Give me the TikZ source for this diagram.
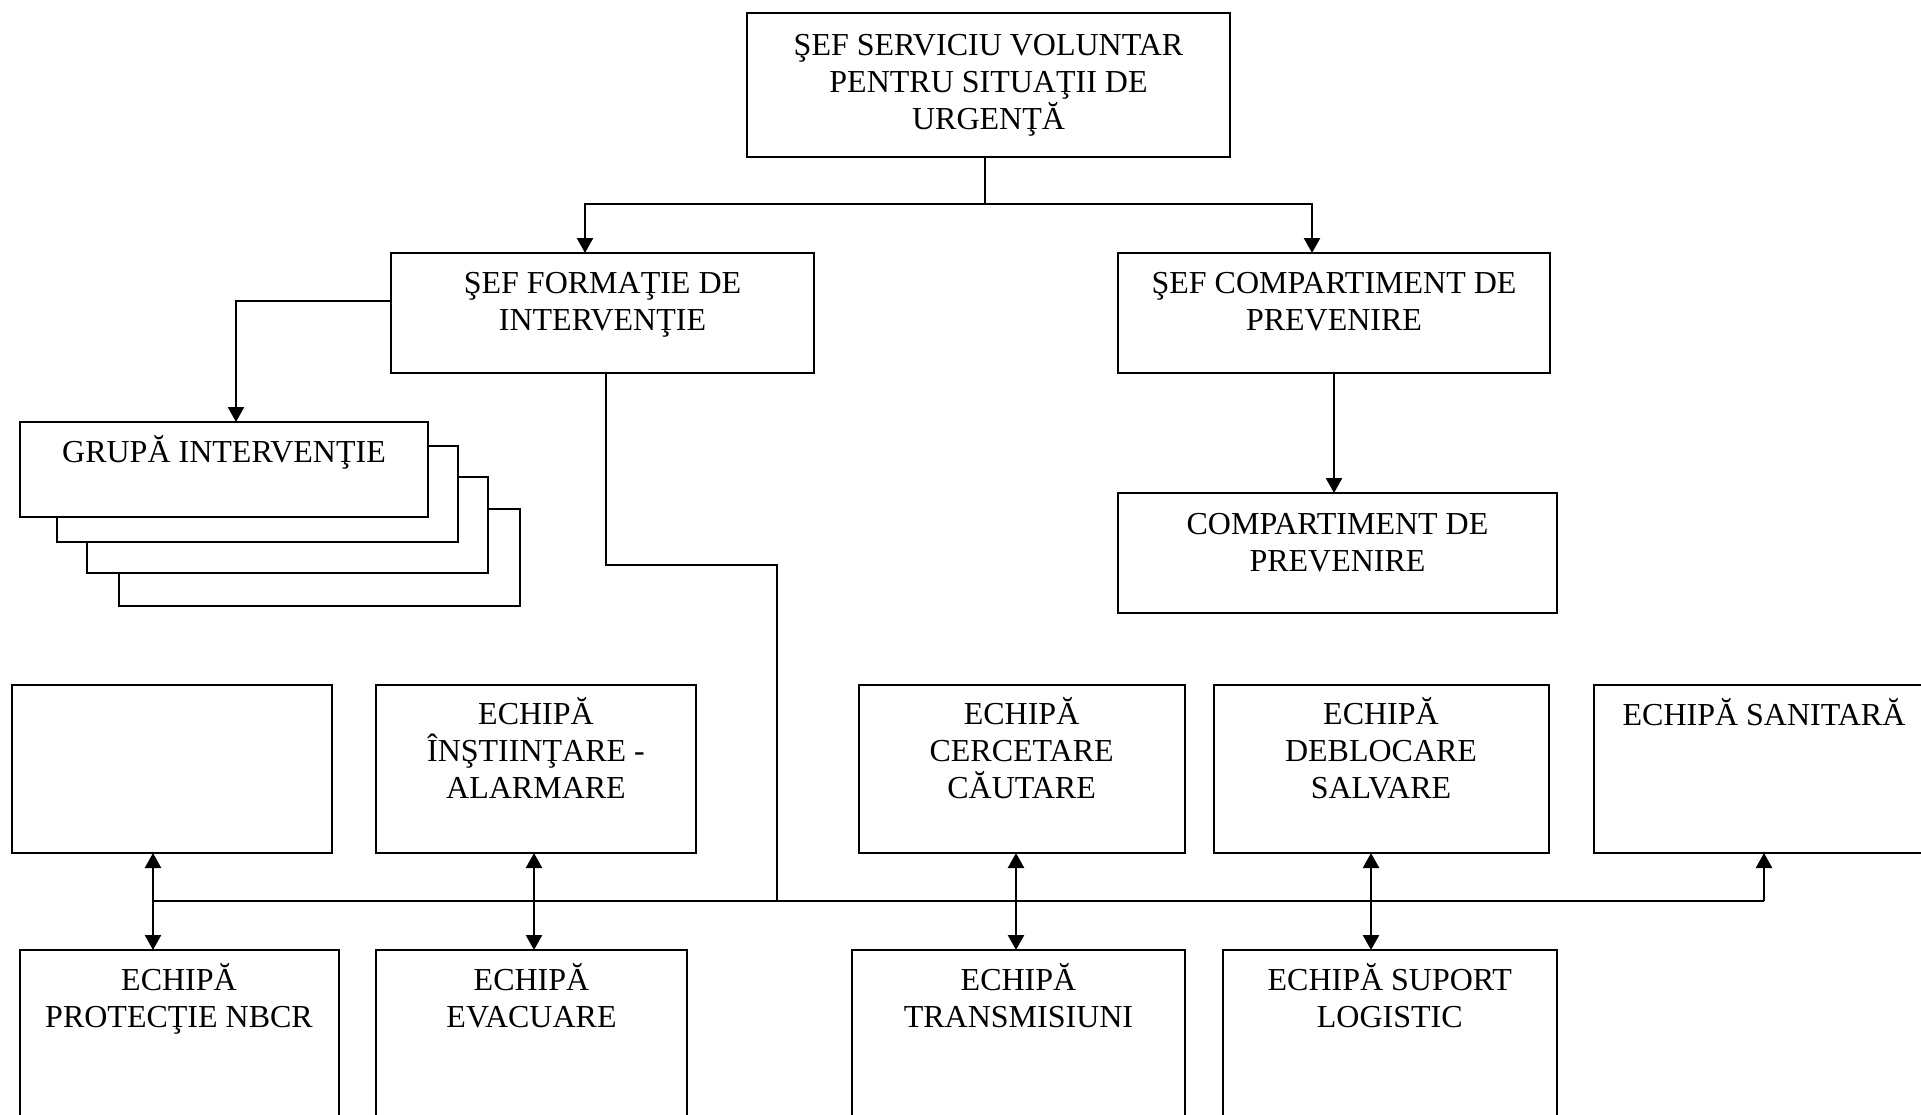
\documentclass[tikz,border=0pt]{standalone}
\usepackage{fontspec}
\setmainfont{Liberation Serif}
\usetikzlibrary{arrows.meta}
\begin{document}
\begin{tikzpicture}[x=0.5pt,y=-0.5pt,
  box/.style={draw, line width=1pt, fill=white, inner sep=0pt, outer sep=0pt, anchor=north west},
  lbl/.style={align=center, font=\fontsize{16}{18.4}\selectfont, inner sep=0pt, anchor=base},
  conn/.style={line width=1.2pt},
  arr/.style={conn, -{Triangle[length=7.5pt,width=8pt]}},
  darr/.style={conn, {Triangle[length=7.5pt,width=8pt]}-{Triangle[length=7.5pt,width=8pt]}}]
\fill[white] (0,0) rectangle (1921,1114);
\useasboundingbox (0,0) rectangle (1921,1114);
\clip (0,0) rectangle (1921,1114);

% boxes
\node[box, minimum width=241.5pt, minimum height=72pt] (T) at (747,13) {};
\node[box, minimum width=211.5pt, minimum height=60pt] (F) at (391,253) {};
\node[box, minimum width=216pt, minimum height=60pt] (C) at (1118,253) {};
\node[box, minimum width=219.5pt, minimum height=60pt] (CP) at (1118,493) {};
\node[box, minimum width=200.5pt, minimum height=48.5pt] (G4) at (119,509) {};
\node[box, minimum width=200.5pt, minimum height=48pt] (G3) at (87,477) {};
\node[box, minimum width=200.5pt, minimum height=48pt] (G2) at (57,446) {};
\node[box, minimum width=204pt, minimum height=47.5pt] (G1) at (20,422) {};
\node[box, minimum width=160pt, minimum height=84pt] (E1) at (12,685) {};
\node[box, minimum width=160pt, minimum height=84pt] (E2) at (376,685) {};
\node[box, minimum width=163pt, minimum height=84pt] (E3) at (859,685) {};
\node[box, minimum width=167.5pt, minimum height=84pt] (E4) at (1214,685) {};
\node[box, minimum width=170.5pt, minimum height=84pt] (E5) at (1594,685) {};
\node[box, minimum width=159.5pt, minimum height=90pt] (B1) at (20,950) {};
\node[box, minimum width=155.5pt, minimum height=90pt] (B2) at (376,950) {};
\node[box, minimum width=166.5pt, minimum height=90pt] (B3) at (852,950) {};
\node[box, minimum width=167pt, minimum height=90pt] (B4) at (1223,950) {};

% labels (anchored at the baseline of their last line)
\node[lbl] (Tl) at (988.5,129) {ŞEF SERVICIU VOLUNTAR\\PENTRU SITUAŢII DE\\URGENŢĂ};
\node[lbl] (Fl) at (602.5,330.5) {ŞEF FORMAŢIE DE\\INTERVENŢIE};
\node[lbl] (Cl) at (1334,330.5) {ŞEF COMPARTIMENT DE\\PREVENIRE};
\node[lbl] (CPl) at (1337.5,571.5) {COMPARTIMENT DE\\PREVENIRE};
\node[lbl] (Gl) at (224,462) {GRUPĂ INTERVENŢIE};
\node[lbl] (E2l) at (536,798) {ECHIPĂ\\ÎNŞTIINŢARE -\\ALARMARE};
\node[lbl] (E3l) at (1021.6,798) {ECHIPĂ\\CERCETARE\\CĂUTARE};
\node[lbl] (E4l) at (1381,798) {ECHIPĂ\\DEBLOCARE\\SALVARE};
\node[lbl] (E5l) at (1764,725) {ECHIPĂ SANITARĂ};
\node[lbl] (B1l) at (179,1027) {ECHIPĂ\\PROTECŢIE NBCR};
\node[lbl] (B2l) at (531.5,1027) {ECHIPĂ\\EVACUARE};
\node[lbl] (B3l) at (1018.5,1027) {ECHIPĂ\\TRANSMISIUNI};
\node[lbl] (B4l) at (1389.8,1027) {ECHIPĂ SUPORT\\LOGISTIC};

% junction coordinates
\coordinate (j0) at (985,204);
\coordinate (fa) at (585,204);
\coordinate (ca) at (1312,204);
\coordinate (gf) at (236,301);
\coordinate (fb1) at (606,565);
\coordinate (fb2) at (777,565);
\coordinate (bus0) at (777,901);
\coordinate (busL) at (153,901);
\coordinate (busR) at (1764,901);
\coordinate (x1) at (153,0);
\coordinate (x2) at (534,0);
\coordinate (x3) at (1016,0);
\coordinate (x4) at (1371,0);

% connectors
\draw[conn] (T.south -| j0) -- (j0);
\draw[arr] (j0) -- (fa) -- (F.north -| fa);
\draw[arr] (j0) -- (ca) -- (C.north -| ca);
\draw[arr] (C.south) -- (C.south |- CP.north);
\draw[arr] (F.west |- gf) -- (gf) -- (G1.north -| gf);
\draw[conn] (F.south -| fb1) -- (fb1) -- (fb2) -- (bus0);
\draw[conn] (busL) -- (busR);
\draw[arr] (busR) -- (E5.south -| busR);
\draw[darr] (E1.south -| x1) -- (B1.north -| x1);
\draw[darr] (E2.south -| x2) -- (B2.north -| x2);
\draw[darr] (E3.south -| x3) -- (B3.north -| x3);
\draw[darr] (E4.south -| x4) -- (B4.north -| x4);
\end{tikzpicture}
\end{document}
